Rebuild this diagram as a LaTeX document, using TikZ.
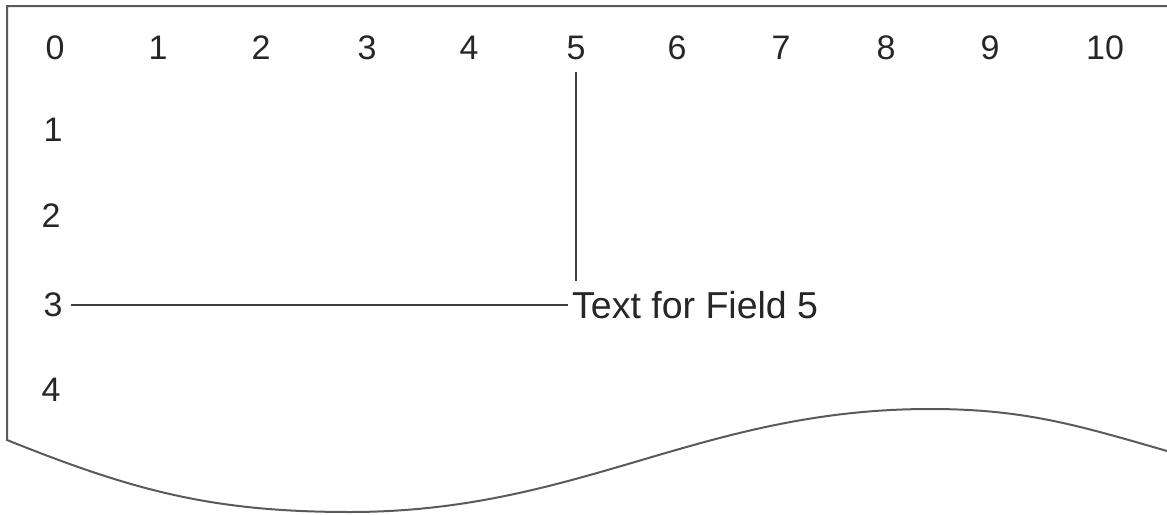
\documentclass[tikz,border=0pt]{standalone}
\usepackage{fontspec}
\setmainfont{Liberation Sans}
\definecolor{bordergray}{HTML}{5A5A5A}
\definecolor{linegray}{HTML}{404040}
\tikzset{
  num/.style={inner sep=0pt, font=\fontsize{34}{40}\selectfont, text=black!85},
  fieldlabel/.style={inner xsep=4pt, inner ysep=0pt, anchor=west, font=\fontsize{37.5}{43}\selectfont, text=black!85},
  paper/.style={draw=bordergray, line width=2pt, line join=miter},
  guide/.style={draw=linegray, line width=2pt}
}
\begin{document}
\begin{tikzpicture}[x=1pt,y=-1pt]
\useasboundingbox (0,0) rectangle (1167,514);
% paper outline with torn (wavy) bottom
\draw[paper] (1167,6) -- (7,6) -- (7,440)
  .. controls (134,491) and (213,512) .. (350,512)
  .. controls (580,512) and (700,409) .. (930,409)
  .. controls (1024,409) and (1077,425) .. (1167,451);
% column numbers
\node[num] (c0) at (55,48) {0};
\node[num] (c1) at (158,48) {1};
\node[num] (c2) at (261,48) {2};
\node[num] (c3) at (367,48) {3};
\node[num] (c4) at (469,48) {4};
\node[num] (c5) at (576,48) {5};
\node[num] (c6) at (677,48) {6};
\node[num] (c7) at (781,48) {7};
\node[num] (c8) at (886,48) {8};
\node[num] (c9) at (990,48) {9};
\node[num] (c10) at (1105,48) {10};
% row numbers
\node[num] (r1) at (53,130) {1};
\node[num] (r2) at (51,216) {2};
\node[num] (r3) at (53,305) {3};
\node[num] (r4) at (51,390) {4};
% field label
\node[fieldlabel] (lab) at (568,305) {Text for Field 5};
% guide lines
\draw[guide, shorten <=12pt, shorten >=10pt] (c5.south) -- (c5.south |- lab.north);
\draw[guide, shorten <=8pt] (r3.east) -- (lab.west);
\end{tikzpicture}
\end{document}
